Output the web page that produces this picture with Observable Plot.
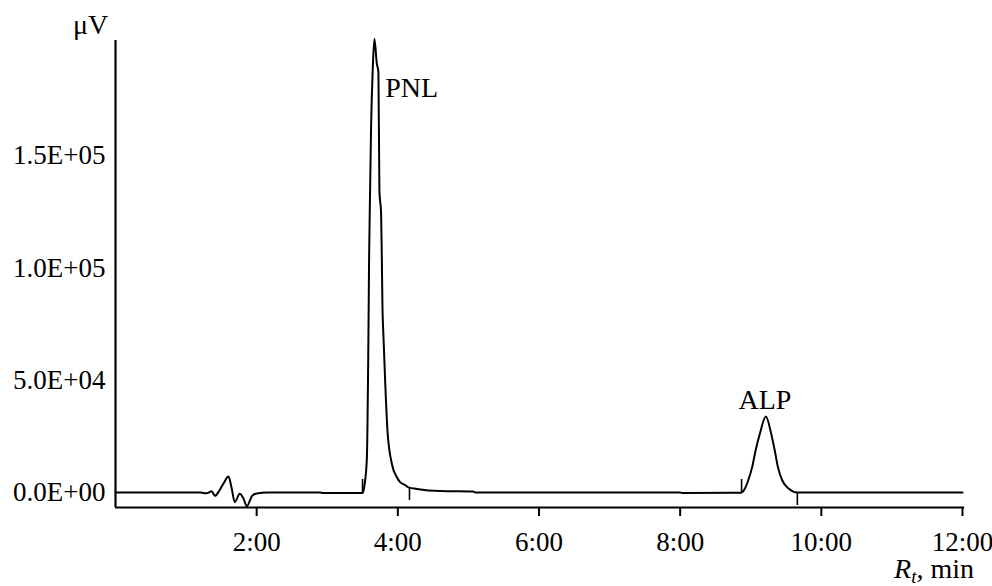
<!DOCTYPE html>
<html>
<head>
<meta charset="utf-8">
<script src="https://cdn.jsdelivr.net/npm/d3@7"></script>
<script src="https://cdn.jsdelivr.net/npm/@observablehq/plot@0.6"></script>
<style>
  html, body { margin: 0; padding: 0; background: #fff; }
  #chart svg { display: block; }
</style>
</head>
<body>
<div id="chart"></div>
<script>
// Retention time (min) and detector signal (µV)
const times = [0, 1.20, 1.26, 1.31, 1.36, 1.41, 1.47, 1.53, 1.60, 1.645, 1.69, 1.76, 1.81, 1.86, 1.94, 2.02, 2.14, 2.90, 2.94,
  3.50, 3.52, 3.56, 3.583, 3.593, 3.607, 3.621, 3.645, 3.668, 3.702, 3.725, 3.739, 3.763, 3.773, 3.782, 3.796, 3.82, 3.853,
  3.915, 3.986, 4.033, 4.104, 4.15, 4.27, 4.60, 5.07, 5.10, 8.00, 8.02, 8.86, 8.91, 8.96, 9.02, 9.07, 9.13, 9.214, 9.29,
  9.34, 9.385, 9.447, 9.54, 9.66, 12.0];
const signal = [0, 0, -300, -200, 600, -1500, 800, 4000, 7100, 2000, -4300, -600, -2500, -6100, -1300, -300, 0, 0, -200,
  -200, 1800, 14200, 67700, 104800, 134400, 162600, 188800, 202000, 191000, 187100, 134400, 124200, 104800, 83200, 69900, 49900, 27600,
  12800, 6800, 4600, 3300, 2300, 1600, 650, 450, 0, 0, -200, -150, 1300, 5000, 11300, 18900, 26300, 33800, 26100,
  18700, 11300, 5340, 1650, 0, 0];

// Integration marks (peak start / end)
const markTimes = [3.50, 4.165, 8.87, 9.66];
const markFrom = [0, 2200, 0, 0];
const markTo = [5800, -3600, 5800, -5800];

// Peak labels
const peakNames = ["PNL", "ALP"];
const peakLabelT = [3.82, 9.20];
const peakLabelV = [180000, 41000];
const peakAnchor = ["start", "middle"];

// Axis ticks
const xTicks = [2, 4, 6, 8, 10, 12];
const yTicks = [0, 50000, 100000, 150000];
const xDomain = [0, 12];
const yDomain = [-6680, 201230];

const rows = times.map((t, i) => ({t, v: signal[i]}));
const marks = markTimes.map((t, i) => ({t, a: markFrom[i], b: markTo[i]}));
const labels = peakNames.map((n, i) => ({n, t: peakLabelT[i], v: peakLabelV[i], anchor: peakAnchor[i]}));

function yFmt(d) {
  if (d === 0) return "0.0E+00";
  const e = Math.floor(Math.log10(d));
  const m = d / Math.pow(10, e);
  return m.toFixed(1) + "E+" + String(e).padStart(2, "0");
}

const plot = Plot.plot({
  width: 992,
  height: 586,
  marginLeft: 115,
  marginRight: 30,
  marginTop: 40,
  marginBottom: 79,
  style: "font-family: 'Liberation Serif', 'Times New Roman', serif; font-size: 27px; color: #000; background: #fff; overflow: visible;",
  x: {domain: xDomain},
  y: {domain: yDomain},
  marks: [
    Plot.axisX({ticks: xTicks, tickSize: 9, tickPadding: 15, strokeWidth: 2, tickFormat: d => `${d}:00`, label: null, fontSize: 27}),
    Plot.axisY({ticks: yTicks, tickSize: 0, tickPadding: 10, tickFormat: yFmt, label: null, fontSize: 27}),
    Plot.ruleX([xDomain[0]], {y1: yDomain[0], y2: yDomain[1], stroke: "#000", strokeWidth: 2.2}),
    Plot.ruleY([yDomain[0]], {x1: xDomain[0], x2: 12.03, stroke: "#000", strokeWidth: 2.2}),
    Plot.line(rows, {x: "t", y: "v", stroke: "#000", strokeWidth: 2, curve: "monotone-x"}),
    Plot.ruleX(marks, {x: "t", y1: "a", y2: "b", stroke: "#000", strokeWidth: 1.6}),
    Plot.text(labels.filter(d => d.anchor === "start"), {x: "t", y: "v", text: "n", textAnchor: "start", fontSize: 28, fill: "#000"}),
    Plot.text(labels.filter(d => d.anchor === "middle"), {x: "t", y: "v", text: "n", textAnchor: "middle", fontSize: 28, fill: "#000"})
  ]
});

const svg = d3.select(plot);
svg.append("text")
  .attr("x", 73).attr("y", 34)
  .attr("text-anchor", "start")
  .attr("font-size", 28)
  .attr("fill", "#000")
  .text("μV");
const xl = svg.append("text")
  .attr("x", 974).attr("y", 578)
  .attr("text-anchor", "end")
  .attr("font-size", 28)
  .attr("fill", "#000");
xl.append("tspan").attr("font-style", "italic").text("R");
xl.append("tspan").attr("font-style", "italic").attr("font-size", 19).attr("dy", 5).text("t");
xl.append("tspan").attr("dy", -5).text(", min");

document.getElementById("chart").appendChild(plot);
</script>
</body>
</html>
